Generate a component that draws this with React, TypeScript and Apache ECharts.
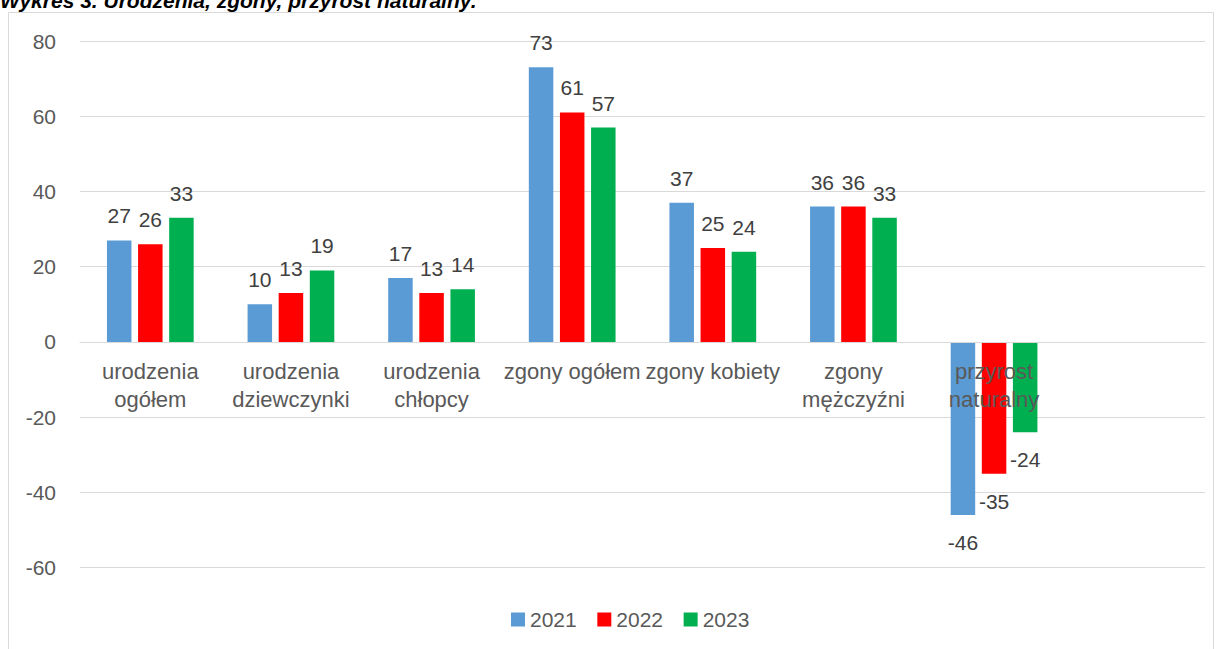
import React, { useEffect, useRef } from "react";
import * as echarts from "echarts";

const categories = [
  "urodzenia ogółem",
  "urodzenia dziewczynki",
  "urodzenia chłopcy",
  "zgony ogółem",
  "zgony kobiety",
  "zgony mężczyźni",
  "przyrost naturalny",
  "",
];
const years = ["2021", "2022", "2023"];
const values2021 = [27, 10, 17, 73, 37, 36, -46];
const values2022 = [26, 13, 13, 61, 25, 36, -35];
const values2023 = [33, 19, 14, 57, 24, 33, -24];
const yMin = -60;
const yMax = 80;
const yStep = 20;
const title = "Wykres 3. Urodzenia, zgony, przyrost naturalny.";

const colors = ["#5B9BD5", "#FF0000", "#00B050"];
const FONT = "'Liberation Sans', Arial, sans-serif";

let measureCtx: CanvasRenderingContext2D | null = null;
function textWidth(s: string, font: string) {
  if (!measureCtx) measureCtx = document.createElement("canvas").getContext("2d");
  if (!measureCtx) return s.length * 10;
  measureCtx.font = font;
  return measureCtx.measureText(s).width;
}
function wrapLabel(s: string, maxW: number, font: string) {
  if (textWidth(s, font) <= maxW) return s;
  const words = s.split(" ");
  const lines: string[] = [];
  let cur = "";
  for (const w of words) {
    const t = cur ? cur + " " + w : w;
    if (cur && textWidth(t, font) > maxW) {
      lines.push(cur);
      cur = w;
    } else cur = t;
  }
  if (cur) lines.push(cur);
  return lines.join("\n");
}

export default function App() {
  const ref = useRef<HTMLDivElement>(null);
  useEffect(() => {
    if (!ref.current) return;
    const chart = echarts.init(ref.current, null, { renderer: "svg" });
    const mk = (vals: number[]) =>
      vals.map((v) => ({
        value: v,
        label: { position: v < 0 ? "bottom" : "top", distance: v < 0 ? 17 : 14 },
      }));
    const seriesVals = [values2021, values2022, values2023];
    const gridTop = 41;
    const gridBottomY = 567.7;
    const zeroY = gridTop + ((gridBottomY - gridTop) * yMax) / (yMax - yMin);
    const catFont = `22px ${FONT}`;
    chart.setOption({
      animation: false,
      textStyle: { fontFamily: FONT },
      graphic: [
        {
          type: "rect",
          shape: { x: 8.5, y: 12.5, width: 1205, height: 700 },
          style: { fill: "none", stroke: "#d9d9d9", lineWidth: 1 },
          silent: true,
        },
        {
          type: "text",
          x: 0,
          y: 0,
          style: {
            text: title,
            font: `italic bold 21px ${FONT}`,
            fill: "#000000",
            verticalAlign: "middle",
            align: "left",
          },
        },
      ],
      grid: {
        left: 80,
        right: 17,
        top: gridTop,
        bottom: 649 - gridBottomY,
        outerBoundsMode: "none",
      },
      legend: {
        data: years,
        left: 506,
        top: 604,
        itemWidth: 14,
        itemHeight: 14,
        itemGap: 20.6,
        icon: "rect",
        textStyle: { fontSize: 21, color: "#595959", fontFamily: FONT },
      },
      xAxis: {
        type: "category",
        data: categories,
        z: 10,
        offset: -(gridBottomY - zeroY),
        axisLine: { onZero: false, lineStyle: { color: "#d9d9d9", width: 1 } },
        axisTick: { show: false },
        axisLabel: {
          interval: 0,
          fontSize: 22,
          color: "#595959",
          fontFamily: FONT,
          lineHeight: 28,
          margin: 16,
          formatter: (s: string) => wrapLabel(s, 145, catFont),
        },
      },
      yAxis: {
        type: "value",
        min: yMin,
        max: yMax,
        interval: yStep,
        axisLine: { show: false },
        axisTick: { show: false },
        splitLine: { lineStyle: { color: "#d9d9d9", width: 1 } },
        axisLabel: { fontSize: 21, color: "#595959", fontFamily: FONT, margin: 24 },
      },
      series: years.map((y, i) => ({
        name: y,
        type: "bar",
        data: mk(seriesVals[i]),
        barWidth: 24.5,
        barGap: "27%",
        itemStyle: { color: colors[i] },
        label: {
          show: true,
          fontSize: 21,
          color: "#404040",
          fontFamily: FONT,
        },
      })),
    });
    return () => chart.dispose();
  }, []);
  return (
    <div
      ref={ref}
      style={{ position: "fixed", left: 0, top: 0, width: 1222, height: 649, background: "#fff" }}
    />
  );
}
